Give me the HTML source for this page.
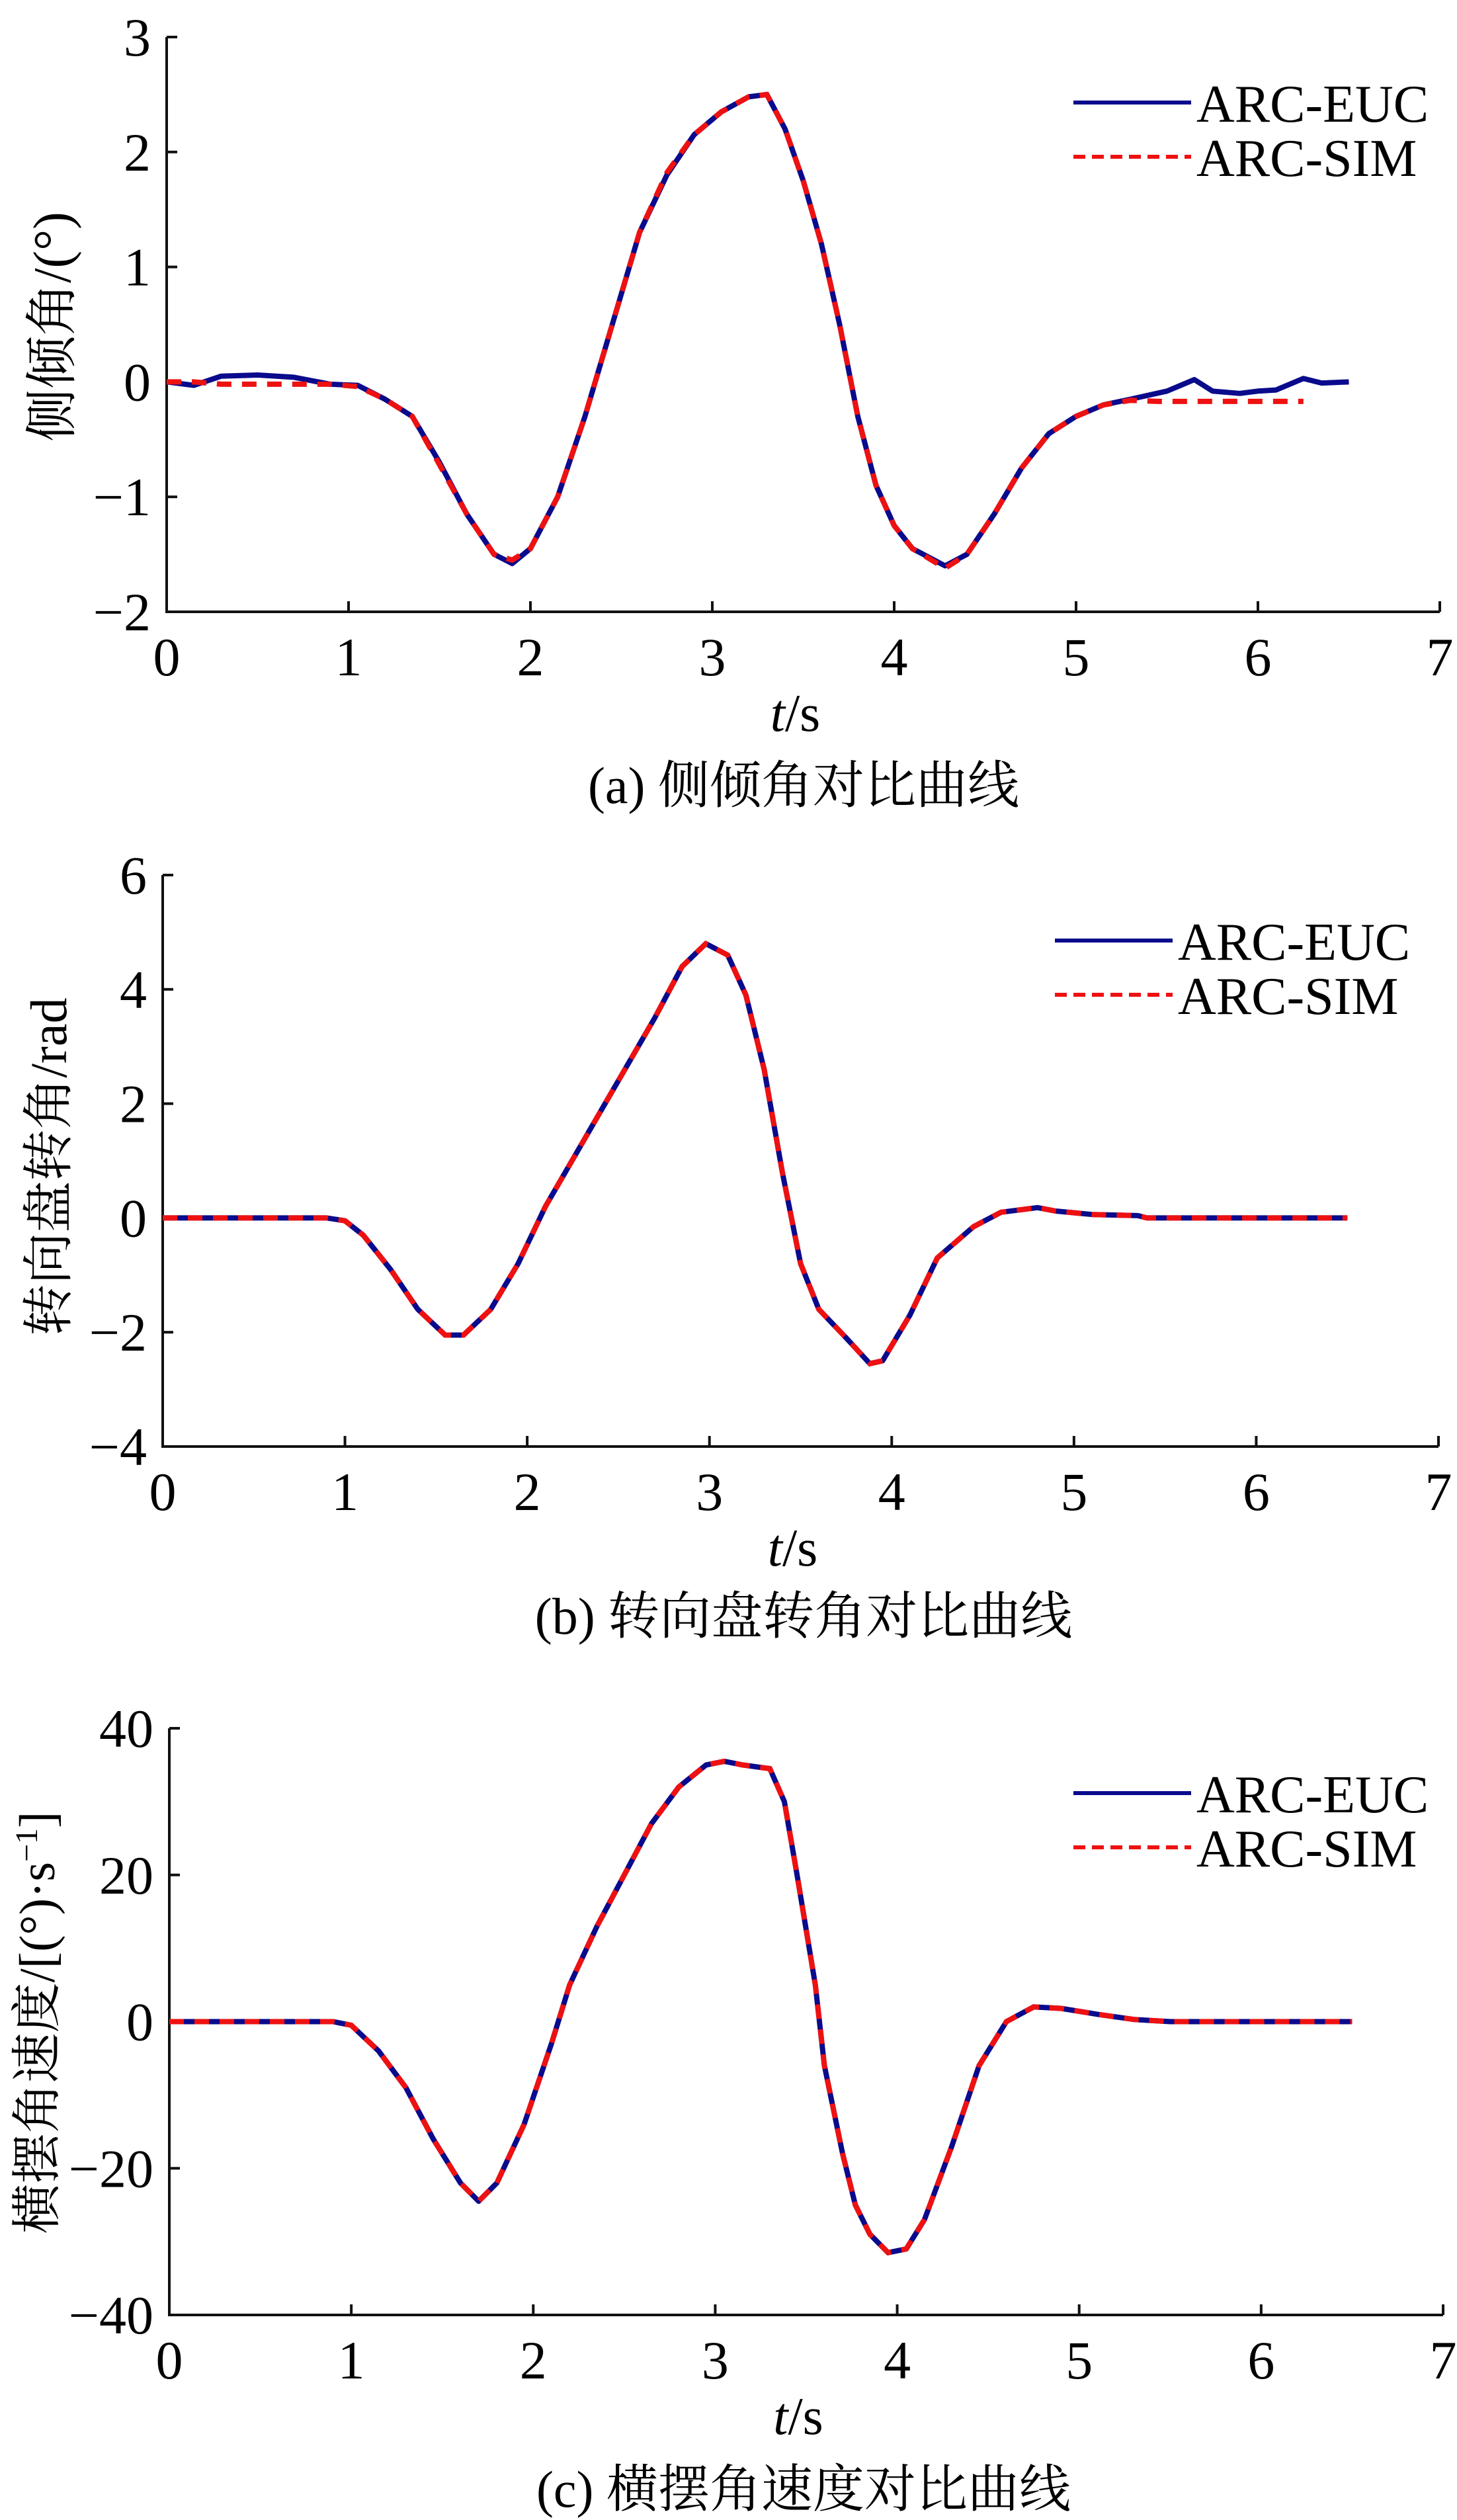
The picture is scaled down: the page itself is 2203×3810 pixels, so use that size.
<!DOCTYPE html>
<html><head><meta charset="utf-8">
<style>
html,body{margin:0;padding:0;background:#fff;}
svg{display:block;}
text{font-family:"Liberation Serif","Noto Serif CJK SC","Noto Sans CJK SC",serif;fill:#000;}
</style></head>
<body>
<svg id="fig" width="2203" height="3810" viewBox="0 0 2203 3810" xmlns="http://www.w3.org/2000/svg"></svg>
<script>
// ---- chart (a) data
const aT = [0,0.15,0.3,0.5,0.7,0.9,1.05,1.2,1.35,1.5,1.65,1.8,1.9,2.0,2.15,2.3,2.45,2.6,2.75,2.9,3.05,3.2,3.3,3.4,3.5,3.6,3.7,3.8,3.9,4.0,4.1,4.28,4.4,4.55,4.7,4.85,5.0,5.15,5.3,5.5,5.65,5.75,5.9,6.0,6.1,6.25,6.35,6.5];
const aEuc = [0,-0.03,0.05,0.06,0.04,-0.02,-0.03,-0.15,-0.3,-0.7,-1.15,-1.5,-1.58,-1.45,-1.0,-0.3,0.5,1.3,1.8,2.15,2.35,2.48,2.5,2.2,1.75,1.2,0.5,-0.3,-0.9,-1.25,-1.45,-1.6,-1.5,-1.15,-0.75,-0.45,-0.3,-0.2,-0.15,-0.08,0.02,-0.08,-0.1,-0.08,-0.07,0.03,-0.01,0.0];
const aSimT = [0,0.15,0.3,0.5,0.7,0.9,1.05,1.2,1.35,1.5,1.65,1.8,1.9,2.0,2.15,2.3,2.45,2.6,2.75,2.9,3.05,3.2,3.3,3.4,3.5,3.6,3.7,3.8,3.9,4.0,4.1,4.28,4.4,4.55,4.7,4.85,5.0,5.15,5.3,5.45,6.25];
const aSim = [0,0,-0.02,-0.02,-0.02,-0.02,-0.04,-0.15,-0.3,-0.72,-1.15,-1.5,-1.55,-1.45,-1.0,-0.3,0.5,1.3,1.82,2.15,2.35,2.48,2.5,2.2,1.75,1.2,0.5,-0.3,-0.9,-1.25,-1.45,-1.62,-1.5,-1.15,-0.75,-0.45,-0.3,-0.2,-0.16,-0.17,-0.17];
const aYTicks = [3,2,1,0,-1,-2];
// ---- chart (b) data
const bT = [0,0.9,1.0,1.1,1.25,1.4,1.55,1.65,1.8,1.95,2.1,2.3,2.5,2.7,2.85,2.98,3.1,3.2,3.3,3.4,3.5,3.6,3.75,3.88,3.95,4.1,4.25,4.45,4.6,4.8,4.9,5.1,5.35,5.4,6.5];
const bEuc = [0,0,-0.05,-0.3,-0.9,-1.6,-2.05,-2.05,-1.6,-0.8,0.2,1.3,2.4,3.5,4.4,4.8,4.6,3.9,2.6,0.8,-0.8,-1.6,-2.1,-2.55,-2.5,-1.7,-0.7,-0.15,0.1,0.18,0.12,0.06,0.04,0,0];
const bSim = [0,0,-0.05,-0.3,-0.9,-1.6,-2.05,-2.05,-1.6,-0.8,0.2,1.3,2.4,3.5,4.4,4.8,4.6,3.9,2.6,0.8,-0.8,-1.6,-2.1,-2.55,-2.5,-1.7,-0.7,-0.15,0.1,0.18,0.12,0.06,0.04,0,0];
const bYTicks = [6,4,2,0,-2,-4];
// ---- chart (c) data
const cT = [0,0.9,1.0,1.15,1.3,1.45,1.6,1.7,1.8,1.95,2.1,2.2,2.35,2.5,2.65,2.8,2.95,3.05,3.15,3.3,3.38,3.45,3.55,3.6,3.7,3.77,3.85,3.95,4.05,4.15,4.3,4.45,4.6,4.75,4.9,5.1,5.3,5.5,6.5];
const cEuc = [0,0,-0.5,-4,-9,-16,-22,-24.5,-22,-14,-3,5,13,20,27,32,35,35.5,35,34.5,30,20,5,-6,-18,-25,-29,-31.5,-31,-27,-17,-6,0,2,1.8,1,0.3,0,0];
const cSim = [0,0,-0.5,-4,-9,-16,-22,-24.5,-22,-14,-3,5,13,20,27,32,35,35.5,35,34.5,30,20,5,-6,-18,-25,-29,-31.5,-31,-27,-17,-6,0,2,1.8,1,0.3,0,0];
const cYTicks = [40,20,0,-20,-40];
const xTicks = [0,1,2,3,4,5,6,7];

const NS = "http://www.w3.org/2000/svg";
const svg = document.getElementById('fig');
function mk(tag, attrs, parent){
  const e = document.createElementNS(NS, tag);
  for (const k in attrs) e.setAttribute(k, attrs[k]);
  (parent||svg).appendChild(e);
  return e;
}
function fmt(v){ return v<0 ? '\u2212'+Math.abs(v) : String(v); }

function chart(cfg){
  const g = mk('g', {});
  
  
  const X = t => cfg.x0 + (t-0)/7*(cfg.x1-cfg.x0);
  const Y = v => cfg.yb + (v-cfg.ymin)/(cfg.ymax-cfg.ymin)*(cfg.yt-cfg.yb);
  const ax = mk('path', {d:`M${cfg.x0},${cfg.yt} L${cfg.x0},${cfg.yb} L${cfg.x1},${cfg.yb}`, fill:'none', stroke:'#111', 'stroke-width':4}, g);
  
  
  xTicks.forEach(t=>{
    const tk = mk('line', {x1:X(t), x2:X(t), y1:cfg.yb, y2:cfg.yb-16, stroke:'#111','stroke-width':4}, g);
    
    
    const tl = mk('text', {x:X(t), y:cfg.yb+96, 'font-size':82, 'text-anchor':'middle'}, g);
    tl.textContent = t;
    
    
  });
  cfg.yticks.forEach(v=>{
    const tk = mk('line', {x1:cfg.x0, x2:cfg.x0+16, y1:Y(v), y2:Y(v), stroke:'#111','stroke-width':4}, g);
    
    
    const tl = mk('text', {x:cfg.x0-24, y:Y(v)+28, 'font-size':82, 'text-anchor':'end'}, g);
    tl.textContent = fmt(v);
    
    
  });
  const pe = cfg.t.map((t,i)=>`${i?'L':'M'}${X(t).toFixed(1)},${Y(cfg.euc[i]).toFixed(1)}`).join(' ');
  const l1 = mk('path', {d:pe, fill:'none', stroke:'#0a0a8c','stroke-width':8,'stroke-linejoin':'round'}, g);
  
  
  const st = cfg.simT || cfg.t;
  const ps = st.map((t,i)=>`${i?'L':'M'}${X(t).toFixed(1)},${Y(cfg.sim[i]).toFixed(1)}`).join(' ');
  const l2 = mk('path', {d:ps, fill:'none', stroke:'#ee1111','stroke-width':8,'stroke-dasharray':'22 16'}, g);
  
  
  const lg = mk('g', {}, g);
  
  
  mk('line', {x1:cfg.lx, x2:cfg.lx+178, y1:cfg.ly, y2:cfg.ly, stroke:'#0a0a8c','stroke-width':6}, lg);
  mk('line', {x1:cfg.lx, x2:cfg.lx+178, y1:cfg.ly+82, y2:cfg.ly+82, stroke:'#ee1111','stroke-width':6,'stroke-dasharray':'18 10'}, lg);
  const e1 = mk('text', {x:cfg.lx+186, y:cfg.ly+29, 'font-size':80}, lg);
  e1.textContent = 'ARC-EUC';
  
  
  const e2 = mk('text', {x:cfg.lx+186, y:cfg.ly+111, 'font-size':80}, lg);
  e2.textContent = 'ARC-SIM';
  
  
  const xl = mk('text', {x:(cfg.x0+cfg.x1)/2-12, y:cfg.yb+180, 'font-size':80, 'text-anchor':'middle'}, g);
  xl.innerHTML = '<tspan font-style="italic">t</tspan>/s';
  
  
  const yl = mk('text', {x:0, y:0, 'font-size':cfg.ylfs, 'text-anchor':'middle', transform:`translate(${cfg.ylx},${cfg.yly}) rotate(-90)`}, g);
  yl.innerHTML = cfg.ylabel;
  
  
  const cp = mk('text', {x:1215, y:cfg.capy, 'font-size':78, 'text-anchor':'middle'}, g);
  cp.textContent = cfg.caption;
  
  
}

chart({name:'chart-a-roll-angle', x0:252, x1:2177, yt:56, yb:925, ymin:-2, ymax:3, yticks:aYTicks,
  t:aT, euc:aEuc, simT:aSimT, sim:aSim, lx:1623, ly:155, ylx:106, yly:494, ylfs:80,
  ylabel:'侧倾角/(°)', caption:'(a) 侧倾角对比曲线', capy:1214});
chart({name:'chart-b-steering-angle', x0:246, x1:2175, yt:1323, yb:2187, ymin:-4, ymax:6, yticks:bYTicks,
  t:bT, euc:bEuc, sim:bSim, lx:1595, ly:1422, ylx:100, yly:1764, ylfs:78,
  ylabel:'转向盘转角/rad', caption:'(b) 转向盘转角对比曲线', capy:2470});
chart({name:'chart-c-yaw-rate', x0:256, x1:2182, yt:2613, yb:3500, ymin:-40, ymax:40, yticks:cYTicks,
  t:cT, euc:cEuc, sim:cSim, lx:1623, ly:2711, ylx:82, yly:3058, ylfs:76,
  ylabel:'横摆角速度/[(°)·s<tspan baseline-shift="super" font-size="48">−1</tspan>]', caption:'(c) 横摆角速度对比曲线', capy:3790});
</script>
</body></html>
